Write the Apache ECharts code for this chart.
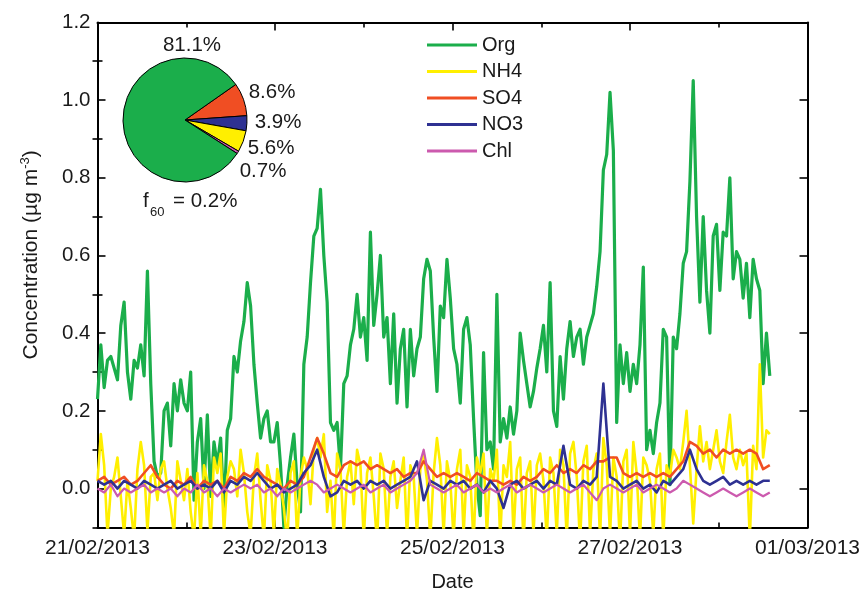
<!DOCTYPE html>
<html>
<head>
<meta charset="utf-8">
<script src="https://cdn.jsdelivr.net/npm/echarts@6/dist/echarts.min.js"></script>
<style>
html,body{margin:0;padding:0;background:#fff;}
#chart{width:861px;height:589px;}
</style>
</head>
<body>
<div id="chart"></div>
<script>
// ---------------- data ----------------
const dateTickLabels = ['21/02/2013', '23/02/2013', '25/02/2013', '27/02/2013', '01/03/2013'];
const yTickValues = [0, 0.2, 0.4, 0.6, 0.8, 1.0, 1.2];
const yMinorTickValues = [-0.1, 0.1, 0.3, 0.5, 0.7, 0.9, 1.1];

// sampling steps in days since 21/02/2013 00:00
const STEP_FINE = 0.0375;
const STEP_COARSE = 0.075;

const orgValues = [
  0.23, 0.37, 0.26, 0.33, 0.34, 0.31, 0.28, 0.42, 0.48, 0.30,
  0.23, 0.33, 0.31, 0.37, 0.29, 0.56, 0.27, 0.07, 0.03, 0.04,
  0.20, 0.22, 0.11, 0.27, 0.20, 0.28, 0.22, 0.20, 0.30, -0.03,
  0.12, 0.18, 0.00, 0.19, -0.02, 0.12, 0.06, 0.13, -0.06, 0.15,
  0.18, 0.34, 0.30, 0.38, 0.43, 0.53, 0.47, 0.32, 0.22, 0.13,
  0.18, 0.20, 0.12, 0.12, 0.17, 0.06, -0.10, 0.01, 0.08, 0.14,
  0.01, -0.06, 0.32, 0.39, 0.53, 0.65, 0.67, 0.77, 0.60, 0.48,
  0.17, 0.15, 0.17, 0.05, 0.27, 0.29, 0.37, 0.41, 0.50, 0.39,
  0.44, 0.33, 0.66, 0.42, 0.50, 0.60, 0.39, 0.44, 0.27, 0.45,
  0.22, 0.36, 0.41, 0.21, 0.41, 0.29, 0.36, 0.39, 0.54, 0.59,
  0.56, 0.39, 0.25, 0.47, 0.44, 0.59, 0.49, 0.36, 0.32, 0.22,
  0.41, 0.44, 0.37, 0.18, 0.01, -0.07, 0.35, 0.10, 0.12, 0.05,
  0.50, 0.12, 0.18, 0.13, 0.21, 0.14, 0.20, 0.40, 0.33, 0.27,
  0.21, 0.25, 0.31, 0.36, 0.42, 0.30, 0.53, 0.20, 0.16, 0.34,
  0.23, 0.36, 0.43, 0.34, 0.39, 0.41, 0.32, 0.39, 0.42, 0.45,
  0.52, 0.61, 0.82, 0.86, 1.02, 0.87, 0.17, 0.37, 0.27, 0.35,
  0.25, 0.32, 0.27, 0.37, 0.57, 0.10, 0.15, 0.09, 0.17, 0.22,
  0.41, 0.39, 0.01, 0.39, 0.36, 0.45, 0.58, 0.61, 0.79, 1.05,
  0.70, 0.48, 0.70, 0.51, 0.40, 0.65, 0.68, 0.51, 0.66, 0.65,
  0.80, 0.54, 0.61, 0.59, 0.49, 0.58, 0.44, 0.59, 0.54, 0.51,
  0.27, 0.40, 0.29
];

const nh4Values = [
  0.02, 0.14, 0.06, -0.12, 0.00, 0.03, 0.08, -0.02, -0.12, 0.02,
  -0.05, -0.13, 0.05, 0.12, 0.06, -0.11, 0.03, 0.04, -0.03, 0.05,
  0.07, 0.00, -0.05, -0.12, 0.07, 0.02, -0.03, 0.05, -0.06, -0.13,
  0.04, -0.12, 0.06, 0.02, -0.13, 0.08, 0.04, 0.09, -0.12, 0.03,
  0.07, 0.05, -0.02, 0.10, 0.04, -0.06, -0.12, 0.03, 0.09, -0.03,
  -0.13, 0.06, 0.02, -0.12, 0.05, 0.01, -0.05, -0.14, 0.04, 0.07,
  -0.13, 0.03, 0.08, 0.05, -0.04, 0.10, 0.13, 0.08, 0.14, -0.06,
  0.02, -0.13, 0.09, 0.05, -0.12, 0.03, 0.07, -0.04, 0.10, 0.06,
  -0.13, 0.04, 0.08, -0.02, -0.14, 0.09, 0.05, -0.12, 0.03, 0.07,
  -0.05, 0.02, 0.08, -0.13, 0.06, 0.03, -0.12, 0.05, 0.09, 0.02,
  -0.13, 0.04, 0.13, 0.06, -0.12, 0.07, 0.02, -0.13, 0.05, 0.10,
  -0.12, 0.06, 0.03, -0.14, 0.08, 0.04, 0.09, -0.12, 0.05, 0.02,
  0.10, -0.13, 0.06, 0.03, 0.12, -0.12, 0.05, 0.08, -0.14, 0.04,
  0.07, -0.12, 0.06, 0.09, 0.02, -0.13, 0.08, 0.04, -0.12, 0.10,
  0.06, -0.13, 0.09, 0.12, 0.03, -0.14, 0.07, 0.11, -0.12, 0.05,
  0.09, -0.13, 0.13, 0.06, -0.12, 0.08, 0.03, -0.14, 0.07, 0.10,
  -0.12, 0.12, 0.04, -0.13, 0.08, 0.06, 0.02, -0.12, 0.05, 0.09,
  -0.13, 0.06, 0.03, 0.10, 0.08, 0.05, 0.12, 0.20, 0.06, -0.09,
  0.05, 0.16, 0.07, 0.12, 0.05, 0.10, 0.15, 0.07, 0.04, 0.12,
  0.19, 0.08, 0.05, 0.10, 0.06, 0.09, -0.13, 0.11, 0.05, 0.32,
  0.08, 0.15, 0.14
];

const so4Values = [
  0.02, 0.03, 0.01, 0.02, 0.03, 0.01, 0.02, 0.04, 0.06, 0.03,
  0.01, 0.00, 0.02, 0.01, 0.03, 0.00, 0.02, 0.01, 0.02, 0.00,
  0.03, 0.02, 0.04, 0.03, 0.05, 0.03, 0.02, 0.01, 0.00, 0.02,
  0.01, 0.03, 0.08, 0.13, 0.09, 0.04, 0.03, 0.06, 0.07, 0.06,
  0.07, 0.05, 0.06, 0.05, 0.04, 0.05, 0.03, 0.04, 0.04, 0.07,
  0.05, 0.03, 0.04, 0.03, 0.04, 0.03, 0.02, 0.04, 0.03, 0.02,
  0.02, 0.01, 0.02, 0.01, 0.03, 0.02, 0.03, 0.05, 0.04, 0.06,
  0.04, 0.05, 0.04, 0.06, 0.05, 0.07, 0.07, 0.08, 0.08, 0.04,
  0.03, 0.04, 0.03, 0.04, 0.03, 0.04, 0.03, 0.05, 0.07, 0.12,
  0.11, 0.09, 0.10, 0.08, 0.10, 0.09, 0.10, 0.09, 0.10, 0.09,
  0.05, 0.06
];

const no3Values = [
  0.02, 0.01, 0.02, 0.00, 0.02, 0.01, 0.00, 0.02, 0.01, 0.00,
  0.01, 0.02, 0.00, 0.01, 0.02, 0.00, 0.01, 0.00, 0.02, -0.01,
  0.02, 0.01, 0.03, 0.02, 0.04, 0.02, 0.00, 0.01, -0.01, 0.00,
  0.01, 0.04, 0.06, 0.10, 0.03, -0.02, -0.01, 0.02, 0.01, 0.02,
  0.00, 0.02, 0.01, 0.02, 0.00, 0.01, 0.02, 0.03, 0.07, -0.03,
  0.02, 0.01, 0.00, 0.02, 0.01, 0.02, 0.00, 0.01, -0.01, 0.02,
  0.00, -0.05, 0.01, 0.02, 0.00, 0.01, 0.02, 0.00, 0.02, 0.01,
  0.11, 0.01, 0.00, 0.02, 0.01, 0.03, 0.27, 0.03, 0.02, 0.00,
  0.01, 0.02, 0.00, 0.01, -0.01, 0.02, 0.01, 0.03, 0.05, 0.10,
  0.05, 0.02, 0.01, 0.02, 0.03, 0.01, 0.02, 0.01, 0.02, 0.01,
  0.02, 0.02
];

const chlValues = [
  0.00, -0.01, 0.01, -0.02, 0.00, -0.01, 0.00, 0.01, -0.01, 0.00,
  -0.01, 0.00, -0.02, 0.00, -0.01, 0.01, -0.01, 0.00, -0.02, 0.00,
  -0.01, 0.00, 0.01, 0.00, 0.01, -0.01, 0.00, -0.02, 0.00, -0.01,
  0.00, 0.01, 0.02, 0.01, -0.01, 0.00, 0.01, 0.00, -0.01, 0.00,
  0.01, -0.01, 0.00, 0.01, -0.01, 0.00, 0.01, 0.02, 0.04, 0.10,
  0.01, 0.00, -0.01, 0.00, 0.01, -0.01, 0.00, 0.01, -0.01, 0.00,
  -0.01, 0.00, 0.01, -0.01, 0.00, 0.01, 0.00, -0.01, 0.00, 0.01,
  0.00, -0.01, 0.00, 0.01, -0.01, -0.03, 0.00, 0.01, 0.00, -0.01,
  0.00, 0.01, -0.01, 0.00, 0.01, 0.00, -0.01, 0.00, 0.02, 0.01,
  0.00, -0.01, -0.02, -0.01, 0.00, -0.01, -0.02, -0.01, 0.00, -0.01,
  -0.02, -0.01
];

// pie inset (percent of total)
const pieNames = ['SO4', 'NO3', 'NH4', 'Chl', 'Org'];
const pieValues = [8.6, 3.9, 5.6, 0.7, 81.1];
const f60Value = 0.2;

// ---------------- styles ----------------
const COLORS = {Org: '#1BAE4B', NH4: '#FFEF00', SO4: '#F04E23', NO3: '#2E3192', Chl: '#CC5AAE'};
const FONT = 'Liberation Sans, Arial, Helvetica, sans-serif';
const TXT = '#1a1a1a';
const pieLabelPos = [[272, 92], [278, 122], [271, 148], [263, 171], [192, 45]];

function toXY(values, step) {
  return values.map((v, i) => [i * step, v]);
}

const chart = echarts.init(document.getElementById('chart'), null, {renderer: 'canvas'});

const axisLineStyle = {color: '#000', width: 2};
const yCommon = {type: 'value', min: -0.1, max: 1.2, splitLine: {show: false}};

function lineSeries(name, values, step, width) {
  return {
    name: name, type: 'line', data: toXY(values, step),
    showSymbol: false, symbol: 'none', clip: true, animation: false,
    lineStyle: {color: COLORS[name], width: width, join: 'round'},
    itemStyle: {color: COLORS[name]}
  };
}

const option = {
  backgroundColor: '#fff',
  animation: false,
  grid: {left: 97.5, top: 22.4, width: 710, height: 505, containLabel: false, outerBoundsMode: 'none'},
  legend: {
    left: 422, top: 30, orient: 'vertical',
    data: ['Org', 'NH4', 'SO4', 'NO3', 'Chl'].map(n => ({name: n, icon: 'rect', itemStyle: {color: COLORS[n]}})),
    itemWidth: 50, itemHeight: 3, itemGap: 6.5,
    selectedMode: false,
    textStyle: {fontFamily: FONT, fontSize: 20, color: TXT, lineHeight: 20}
  },
  xAxis: [
    {
      type: 'value', min: 0, max: 8, interval: 2, position: 'bottom',
      name: 'Date', nameLocation: 'middle', nameGap: 45,
      nameTextStyle: {fontFamily: FONT, fontSize: 20, color: TXT},
      axisLine: {onZero: false, lineStyle: axisLineStyle},
      axisTick: {inside: true, length: 8, lineStyle: {color: '#000', width: 1.6}},
      minorTick: {show: true, splitNumber: 2, length: 5, lineStyle: {color: '#000', width: 1.6}},
      axisLabel: {
        fontFamily: FONT, fontSize: 21, color: TXT, margin: 10,
        showMinLabel: true, showMaxLabel: true, hideOverlap: false,
        formatter: v => dateTickLabels[Math.round(v / 2)]
      },
      splitLine: {show: false}
    },
    {
      type: 'value', min: 0, max: 8, interval: 2, position: 'top',
      axisLine: {onZero: false, lineStyle: axisLineStyle},
      axisTick: {inside: true, length: 8, lineStyle: {color: '#000', width: 1.6}},
      minorTick: {show: true, splitNumber: 2, length: 5, lineStyle: {color: '#000', width: 1.6}},
      axisLabel: {show: false},
      splitLine: {show: false}
    }
  ],
  yAxis: [
    Object.assign({}, yCommon, {
      position: 'left',
      name: 'Concentration (µg m{sup|-3})', nameLocation: 'middle', nameGap: 53, nameRotate: 90,
      nameTextStyle: {
        fontFamily: FONT, fontSize: 21, color: TXT, lineHeight: 26, padding: [0, 0, 0, 40],
        rich: {sup: {fontFamily: FONT, fontSize: 13, color: TXT, verticalAlign: 'top', lineHeight: 14}}
      },
      axisLine: {onZero: false, lineStyle: axisLineStyle},
      axisTick: {inside: true, length: 8, customValues: yTickValues, lineStyle: {color: '#000', width: 1.6}},
      axisLabel: {
        fontFamily: FONT, fontSize: 20.5, color: TXT, margin: 7,
        customValues: yTickValues, formatter: v => v.toFixed(1)
      }
    }),
    Object.assign({}, yCommon, {
      position: 'left',
      axisLine: {show: false},
      axisTick: {inside: true, length: 5, customValues: yMinorTickValues, lineStyle: {color: '#000', width: 1.6}},
      axisLabel: {show: false}
    }),
    Object.assign({}, yCommon, {
      position: 'right',
      axisLine: {show: true, onZero: false, lineStyle: axisLineStyle},
      axisTick: {inside: true, length: 8, customValues: yTickValues, lineStyle: {color: '#000', width: 1.6}},
      axisLabel: {show: false}
    }),
    Object.assign({}, yCommon, {
      position: 'right',
      axisLine: {show: false},
      axisTick: {inside: true, length: 5, customValues: yMinorTickValues, lineStyle: {color: '#000', width: 1.6}},
      axisLabel: {show: false}
    })
  ],
  series: [
    lineSeries('Org', orgValues, STEP_FINE, 3.2),
    lineSeries('NH4', nh4Values, STEP_FINE, 2.6),
    lineSeries('SO4', so4Values, STEP_COARSE, 2.6),
    lineSeries('NO3', no3Values, STEP_COARSE, 2.6),
    lineSeries('Chl', chlValues, STEP_COARSE, 2.2),
    {
      type: 'pie', center: [185, 120], radius: 62, startAngle: 35, clockwise: true,
      avoidLabelOverlap: false, animation: false, silent: true, z: 5,
      data: pieNames.map((n, i) => ({name: n, value: pieValues[i], itemStyle: {color: COLORS[n]}})),
      itemStyle: {borderColor: '#000', borderWidth: 1},
      label: {
        show: true, position: 'outside', fontFamily: FONT, fontSize: 20.5, color: TXT,
        formatter: p => p.value.toFixed(1) + '%'
      },
      labelLine: {show: false},
      labelLayout: function (params) {
        const p = pieLabelPos[params.dataIndex];
        return {x: p[0], y: p[1], align: 'center', verticalAlign: 'middle'};
      },
      emphasis: {disabled: true}
    }
  ],
  graphic: [
    {type: 'text', left: 143, top: 191, silent: true,
     style: {text: 'f', font: '20.5px ' + FONT, fill: TXT}},
    {type: 'text', left: 150, top: 206, silent: true,
     style: {text: '60', font: '13px ' + FONT, fill: TXT}},
    {type: 'text', left: 173, top: 191, silent: true,
     style: {text: '= ' + f60Value.toFixed(1) + '%', font: '20.5px ' + FONT, fill: TXT}}
  ]
};

chart.setOption(option);
</script>
</body>
</html>
